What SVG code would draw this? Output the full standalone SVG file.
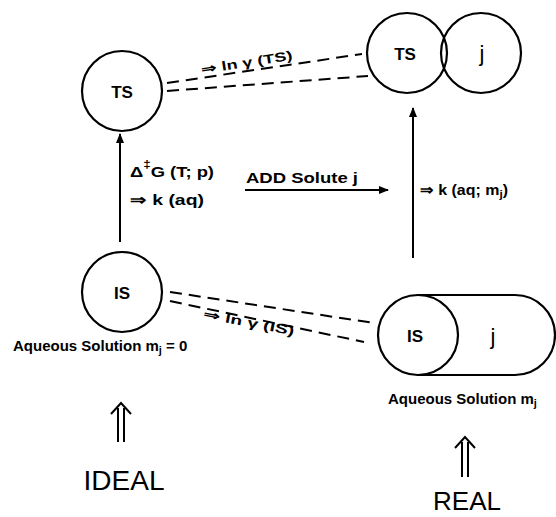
<svg xmlns="http://www.w3.org/2000/svg" width="556" height="517" viewBox="0 0 556 517">
<style>
.c{fill:none;stroke:#000;stroke-width:2.2}
.d{fill:none;stroke:#000;stroke-width:2;stroke-dasharray:12,7}
.l{fill:none;stroke:#000;stroke-width:2}
.t{font-family:"Liberation Sans",Arial,sans-serif;font-weight:bold;fill:#000}
.n{font-family:"Liberation Sans",Arial,sans-serif;fill:#000}
</style>
<defs>
<marker id="ah" viewBox="0 0 10 10" refX="9" refY="5" markerWidth="5" markerHeight="5" orient="auto-start-reverse" markerUnits="strokeWidth">
<path d="M0,1 L10,5 L0,9 z" fill="#000"/>
</marker>
</defs>
<rect width="556" height="517" fill="#fff"/>
<g id="connectors">
<line class="l" x1="120" y1="242" x2="120" y2="134" marker-end="url(#ah)"/>
<line class="l" x1="413" y1="258" x2="413" y2="108" marker-end="url(#ah)"/>
<line class="l" x1="245" y1="190" x2="388" y2="190" marker-end="url(#ah)"/>
<line class="d" x1="167" y1="83" x2="362" y2="54"/>
<line class="d" x1="167" y1="91" x2="368" y2="76"/>
<line class="d" x1="170" y1="292" x2="374" y2="323"/>
<line class="d" x1="170" y1="301" x2="364" y2="342"/>
<text class="t" font-size="13" transform="translate(202,74) rotate(-9)" textLength="92" lengthAdjust="spacingAndGlyphs">⇒ ln γ (TS)</text>
<text class="t" font-size="13" transform="translate(203,318) rotate(11)" textLength="92" lengthAdjust="spacingAndGlyphs">⇒ ln γ (IS)</text>
<text class="t" font-size="15" x="130" y="177" textLength="84" lengthAdjust="spacingAndGlyphs">Δ<tspan dy="-9" font-size="11">‡</tspan><tspan dy="9">G (T; p)</tspan></text>
<text class="t" font-size="15" x="130" y="205" textLength="74" lengthAdjust="spacingAndGlyphs">⇒ k (aq)</text>
<text class="t" font-size="15" x="246" y="183" textLength="112" lengthAdjust="spacingAndGlyphs">ADD Solute j</text>
<text class="t" font-size="15" x="420" y="195" textLength="88" lengthAdjust="spacingAndGlyphs">⇒ k (aq; m<tspan dy="3" font-size="11">j</tspan><tspan dy="-3">)</tspan></text>
</g>
<g id="ts-ideal">
<circle class="c" cx="122" cy="91" r="40"/>
<text class="t" font-size="17" x="122" y="98" text-anchor="middle">TS</text>
</g>
<g id="ts-real">
<circle class="c" cx="407" cy="53" r="40"/>
<circle class="c" cx="481" cy="53" r="40"/>
<text class="t" font-size="17" x="405" y="60" text-anchor="middle">TS</text>
<text class="n" font-size="22" x="482" y="61" text-anchor="middle">j</text>
</g>
<g id="is-ideal">
<circle class="c" cx="122" cy="292" r="40"/>
<text class="t" font-size="17" x="122" y="299" text-anchor="middle">IS</text>
<text class="t" font-size="15" x="13" y="351">Aqueous Solution m<tspan dy="3" font-size="11">j</tspan><tspan dy="-3"> = 0</tspan></text>
</g>
<g id="is-real">
<path class="c" d="M417,295 L515,295 A40,40 0 0 1 515,375 L417,375"/>
<circle class="c" cx="418" cy="335" r="40" fill="#fff"/>
<text class="t" font-size="17" x="415" y="342" text-anchor="middle">IS</text>
<text class="n" font-size="22" x="493" y="344" text-anchor="middle">j</text>
<text class="t" font-size="15" x="388" y="404">Aqueous Solution m<tspan dy="3" font-size="11">j</tspan></text>
</g>
<g id="ideal">
<path class="l" d="M111,414 L121,403 L131,414 M118,408 L118,442 M124,408 L124,442"/>
<text class="n" font-size="28" x="124" y="490" text-anchor="middle">IDEAL</text>
</g>
<g id="real">
<path class="l" d="M455,448 L465,437 L475,448 M462,442 L462,477 M468,442 L468,477"/>
<text class="n" font-size="26" x="467" y="510" text-anchor="middle">REAL</text>
</g>
</svg>
